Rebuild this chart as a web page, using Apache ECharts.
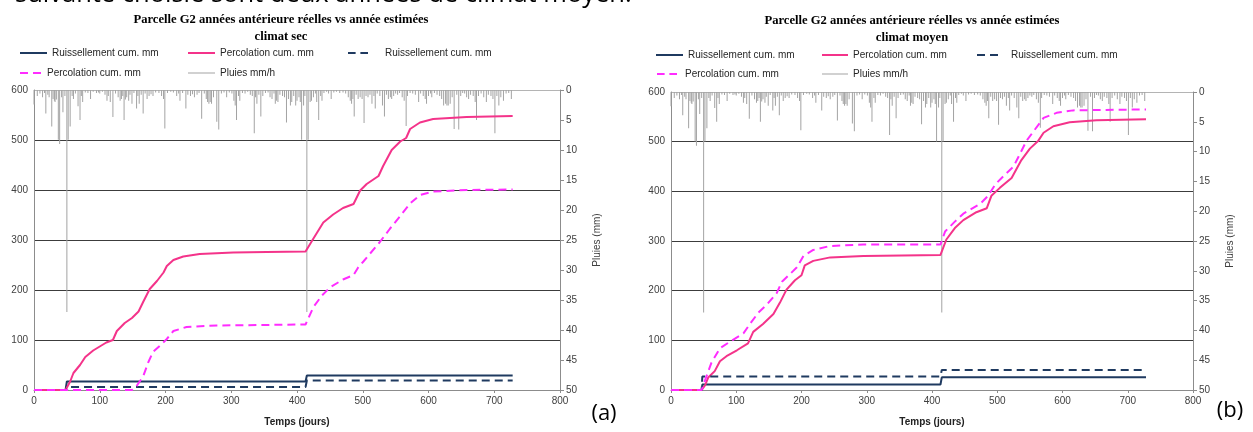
<!DOCTYPE html>
<html>
<head>
<meta charset="utf-8">
<script src="https://cdn.jsdelivr.net/npm/echarts@6/dist/echarts.min.js"></script>
<style>
html, body { margin: 0; padding: 0; background: #fff; }
#chart { width: 1253px; height: 432px; }
</style>
</head>
<body>
<div id="chart"></div>
<script>
// pluies (mm/h) - memes pluies sur les deux graphiques
var rainDays = [0,5,9,13,16,18,21,23,27,29,31,32,34,37,39,42,44,47,50,52,55,58,60,63,67,70,72,74,78,82,86,90,95,98,100,104,108,111,113,116,120,124,128,131,133,135,137,139,141,144,146,149,152,156,158,160,163,166,169,172,175,178,181,185,190,194,197,199,203,208,212,217,220,222,226,231,234,238,241,244,248,251,255,259,262,264,266,268,270,273,278,281,285,289,293,297,301,304,306,308,311,313,317,321,325,329,332,335,337,339,342,345,348,352,356,359,362,365,367,369,371,374,378,381,384,387,390,392,395,
  398,400,403,405,407,410,412,415,417,420,422,425,428,430,433,436,438,441,445,448,452,456,460,465,470,474,478,481,483,485,487,490,493,496,499,502,505,508,511,514,517,519,522,526,530,533,536,539,542,544,547,550,553,556,560,563,566,568,572,576,580,585,588,592,595,597,600,603,605,609,613,617,620,623,626,628,630,633,636,639,643,646,649,652,655,658,661,664,668,671,673,676,680,684,688,691,695,698,701,704,707,710,714,718,722,726];
var rainMm = [2.4,1.0,0.6,1.2,0.5,3.9,0.8,1.2,6.1,1.5,1.8,2.0,1.6,8.3,9.0,1.2,3.7,1.0,37,8.3,6.1,1.0,1.5,0.6,2.7,5.0,1.0,2.0,0.4,0.5,1.5,0.3,0.5,0.4,0.6,0.3,0.8,1.8,1.0,2.0,4.5,0.6,1.2,1.8,1.5,1.0,5.0,1.6,1.2,1.8,0.8,2.3,0.5,3.1,1.0,2.3,0.8,3.9,0.6,1.5,1.0,0.7,1.0,0.4,0.5,1.0,1.5,6.4,0.5,0.3,0.4,1.0,0.6,1.8,0.5,3.1,0.8,1.0,0.7,1.2,0.8,0.5,4.8,0.6,1.5,2.0,2.3,2.0,2.3,1.2,5.3,6.6,0.6,0.4,1.2,0.4,0.6,1.8,2.6,5.0,1.0,1.8,0.5,0.6,0.3,0.8,1.0,7.2,1.2,2.3,0.8,4.4,1.0,0.5,0.4,1.2,1.5,0.6,2.3,1.8,2.0,0.8,1.0,1.2,5.4,1.5,2.6,2.0,1.0,
  2.6,1.8,1.2,2.0,8.3,2.6,1.0,37,8.3,2.0,1.8,1.2,0.6,2.0,5.0,1.0,1.8,0.5,0.3,0.6,1.5,0.4,0.3,0.5,0.4,0.6,1.2,1.8,2.3,1.5,4.4,0.8,1.5,1.2,1.5,5.5,1.0,1.2,0.8,2.3,1.0,3.1,0.6,1.0,2.6,4.4,0.8,1.5,1.2,1.5,1.0,0.6,0.8,0.5,1.2,1.8,6.0,1.0,0.5,0.6,0.8,2.0,0.6,1.0,1.5,2.3,1.0,0.6,1.2,0.5,0.8,1.0,1.5,2.6,2.3,2.6,2.6,2.3,1.2,6.5,0.8,6.6,1.0,0.5,0.6,1.2,1.5,0.8,1.0,2.0,5.0,1.0,0.6,1.2,2.0,0.8,1.0,1.5,7.2,1.0,2.6,1.2,1.8,0.6,0.5,1.5];

// (a) climat sec
var ruisSecReel = [[0,0],[48,0],[50,17],[413,17],[415,29],[728,29]];
var ruisSecEst = [[0,0],[50,0],[52,6],[413,6],[415,19],[728,19]];
var percSecReel = [[0,0],[48,0],[50,0],[55,17],[60,34],[70,50],[78,66],[90,79],[100,87],[110,95],[120,100],[126,118],[138,134],[149,144],[159,157],[166,176],[176,202],[187,218],[197,235],[202,248],[212,260],[227,267],[252,272],[303,275],[354,276],[413,277],[415,277],[425,303],[440,335],[455,351],[470,364],[486,372],[496,399],[506,412],[524,428],[531,448],[544,480],[557,497],[566,504],[572,522],[587,535],[607,542],[658,546],[728,548]];
var percSecEst = [[0,0],[149,0],[156,8],[166,27],[174,56],[181,76],[192,89],[202,102],[212,118],[232,126],[278,129],[413,131],[415,131],[425,166],[438,189],[450,205],[470,221],[486,230],[493,245],[501,257],[526,296],[541,322],[557,348],[572,373],[587,390],[607,397],[658,400],[728,401]];

// (b) climat moyen
var ruisMoyReel = [[0,0],[47,0],[48,11],[413,11],[415,25.5],[728,25.5]];
var ruisMoyEst = [[0,0],[47,0],[48,27],[413,27],[415,40.5],[728,40.5]];
var percMoyReel = [[0,0],[47,0],[52,9],[57,25],[67,38],[75,58],[85,68],[101,80],[118,94],[126,117],[141,133],[157,153],[167,176],[177,202],[190,221],[200,231],[205,251],[218,260],[244,267],[295,270],[413,272],[415,272],[422,303],[435,326],[448,342],[468,358],[484,366],[491,391],[504,407],[522,427],[537,463],[550,486],[563,502],[571,518],[586,531],[611,539],[652,543],[728,545]];
var percMoyEst = [[0,0],[47,0],[52,19],[62,55],[75,84],[90,97],[111,114],[121,133],[134,156],[147,172],[162,195],[170,218],[182,233],[193,247],[203,270],[218,282],[244,290],[295,293],[413,293],[415,293],[420,319],[435,339],[448,355],[474,375],[486,391],[497,414],[509,430],[525,450],[535,476],[545,502],[558,525],[571,548],[591,558],[616,563],[728,565]];

var xTicks = {min: 0, max: 800, interval: 100};
var yLeftTicks = {min: 0, max: 600, interval: 100};
var yRightTicks = {min: 0, max: 50, interval: 5};

var NAVY = '#1f3a60', PINK = '#f4338a', MAGENTA = '#ff2cff', GRAY = '#a3a3a3';
var SANS = '"Liberation Sans", Arial, sans-serif';

var rainData = [];
for (var i = 0; i < rainDays.length; i++) {
    rainData.push([rainDays[i], rainMm[i]]);
}

var myChart = echarts.init(document.getElementById('chart'), null, {renderer: 'canvas'});

function xAxisFor(g) {
    return {
        type: 'value', gridIndex: g, min: xTicks.min, max: xTicks.max, interval: xTicks.interval,
        name: 'Temps (jours)', nameLocation: 'middle', nameGap: 27,
        nameTextStyle: {fontFamily: SANS, fontSize: 10, fontWeight: 'bold', color: '#222'},
        axisLine: {show: true, onZero: false, lineStyle: {color: '#8c8c8c', width: 1}},
        axisTick: {show: true, length: 3, lineStyle: {color: '#8c8c8c'}},
        axisLabel: {fontFamily: SANS, fontSize: 10, color: '#404040', margin: 6},
        splitLine: {show: false}
    };
}
function yLeftFor(g) {
    return {
        type: 'value', gridIndex: g, min: yLeftTicks.min, max: yLeftTicks.max, interval: yLeftTicks.interval,
        axisLine: {show: true, lineStyle: {color: '#8c8c8c', width: 1}},
        axisTick: {show: false},
        axisLabel: {fontFamily: SANS, fontSize: 10, color: '#404040', margin: 6},
        splitLine: {show: true, lineStyle: {color: ['#8c8c8c', '#3c3c3c', '#3c3c3c', '#3c3c3c', '#3c3c3c', '#3c3c3c', '#b4b4b4'], width: 1}}
    };
}
function yRightFor(g) {
    return {
        type: 'value', gridIndex: g, position: 'right', inverse: true,
        min: yRightTicks.min, max: yRightTicks.max, interval: yRightTicks.interval,
        name: 'Pluies (mm)', nameLocation: 'middle', nameGap: 32, nameRotate: 90,
        nameTextStyle: {fontFamily: SANS, fontSize: 10, color: '#404040'},
        axisLine: {show: true, lineStyle: {color: '#8c8c8c', width: 1}},
        axisTick: {show: true, inside: false, length: 4, lineStyle: {color: '#8c8c8c'}},
        axisLabel: {fontFamily: SANS, fontSize: 10, color: '#404040', margin: 6},
        splitLine: {show: false}
    };
}
function lineSerie(name, g, data, color, dashed) {
    return {
        name: name, type: 'line', xAxisIndex: g, yAxisIndex: 2 * g, data: data,
        showSymbol: false, symbol: 'none', animation: false, z: 3,
        itemStyle: {color: color},
        lineStyle: {color: color, width: 2, type: dashed ? [8, 5] : 'solid'}
    };
}
function rainSerie(g) {
    return {
        name: 'Pluies mm/h', type: 'bar', xAxisIndex: g, yAxisIndex: 2 * g + 1, data: rainData,
        barWidth: 1, animation: false, z: 2,
        itemStyle: {color: GRAY}
    };
}

// meme libelle pour reel et estime : espace final pour les distinguer
var RUIS = 'Ruissellement cum. mm', RUIS2 = 'Ruissellement cum. mm ';
var PERC = 'Percolation cum. mm', PERC2 = 'Percolation cum. mm ';
var RAIN = 'Pluies mm/h';
var DASH_ICON = 'path://M0,0H8V2H0ZM13,0H21V2H13Z';

function legendItem(name, left, top, icon, w, h, padLeft) {
    return {
        data: [name], left: left, top: top, padding: 0, selectedMode: false,
        icon: icon, itemWidth: w, itemHeight: h,
        textStyle: {fontFamily: SANS, fontSize: 10, color: '#262626', padding: [0, 0, 0, padLeft || 0]}
    };
}

var legends = [
    legendItem(RUIS, 20, 48, 'rect', 27, 2),
    legendItem(PERC, 188, 48, 'rect', 27, 2),
    legendItem(RUIS2, 348, 48, DASH_ICON, 20, 2, 12),
    legendItem(PERC2, 20, 68, DASH_ICON, 23, 2),
    legendItem(RAIN, 188, 68, 'rect', 27, 1),
    legendItem(RUIS, 656, 50, 'rect', 27, 2),
    legendItem(PERC, 822, 50, 'rect', 26, 2),
    legendItem(RUIS2, 977, 50, DASH_ICON, 23, 2, 7),
    legendItem(PERC2, 657, 69, DASH_ICON, 20, 2, 3),
    legendItem(RAIN, 822, 69, 'rect', 26, 1)
];

var option = {
    backgroundColor: '#fff',
    animation: false,
    legend: legends,
    grid: [
        {left: 34, right: 693, top: 90, bottom: 33, containLabel: false},
        {left: 671, right: 60, top: 92, bottom: 34, containLabel: false}
    ],
    xAxis: [xAxisFor(0), xAxisFor(1)],
    yAxis: [yLeftFor(0), yRightFor(0), yLeftFor(1), yRightFor(1)],
    series: [
        rainSerie(0),
        lineSerie(RUIS, 0, ruisSecReel, NAVY, false),
        lineSerie(PERC, 0, percSecReel, PINK, false),
        lineSerie(RUIS2, 0, ruisSecEst, NAVY, true),
        lineSerie(PERC2, 0, percSecEst, MAGENTA, true),
        rainSerie(1),
        lineSerie(RUIS, 1, ruisMoyReel, NAVY, false),
        lineSerie(PERC, 1, percMoyReel, PINK, false),
        lineSerie(RUIS2, 1, ruisMoyEst, NAVY, true),
        lineSerie(PERC2, 1, percMoyEst, MAGENTA, true)
    ],
    graphic: [
        // texte du document coupe en haut
        {type: 'text', left: 15, top: -18, style: {text: 'suivante choisie sont deux années de climat moyen.', font: '25.5px "Open Sans", sans-serif', fill: '#000'}},
        {type: 'text', x: 281, y: 20, style: {text: 'Parcelle G2 années antérieure réelles vs année estimées', font: 'bold 12.6px "Liberation Serif", serif', fill: '#000', align: 'center', verticalAlign: 'middle'}},
        {type: 'text', x: 281, y: 37, style: {text: 'climat sec', font: 'bold 12.6px "Liberation Serif", serif', fill: '#000', align: 'center', verticalAlign: 'middle'}},
        {type: 'text', x: 912, y: 21, style: {text: 'Parcelle G2 années antérieure réelles vs année estimées', font: 'bold 12.6px "Liberation Serif", serif', fill: '#000', align: 'center', verticalAlign: 'middle'}},
        {type: 'text', x: 912, y: 38, style: {text: 'climat moyen', font: 'bold 12.6px "Liberation Serif", serif', fill: '#000', align: 'center', verticalAlign: 'middle'}},
        {type: 'text', x: 604, y: 414, style: {text: '(a)', font: '22px "Open Sans", sans-serif', fill: '#000', align: 'center', verticalAlign: 'middle'}},
        {type: 'text', x: 1230, y: 411, style: {text: '(b)', font: '22px "Open Sans", sans-serif', fill: '#000', align: 'center', verticalAlign: 'middle'}}
    ]
};

if (option && typeof option === "object") {
    myChart.setOption(option, true);
}
</script>
</body>
</html>
